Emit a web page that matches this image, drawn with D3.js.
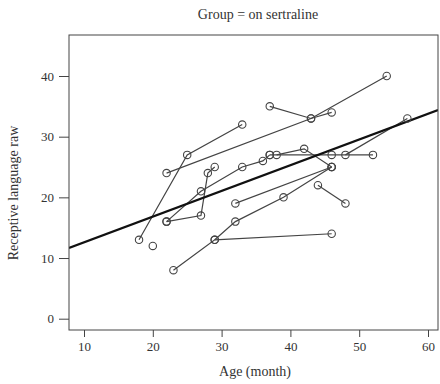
<!DOCTYPE html>
<html>
<head>
<meta charset="utf-8">
<script src="https://cdn.jsdelivr.net/npm/d3@7"></script>
<style>
  body { margin: 0; background: #fff; }
  text { font-family: "Liberation Serif", "DejaVu Serif", serif; fill: #333; }
</style>
</head>
<body>
<svg id="chart" width="440" height="384"></svg>
<script>
// one entry per child: ages (months) and receptive language raw scores
let subjects = [
  { age: [18, 25, 33], score: [13, 27, 32] },
  { age: [22, 43, 54], score: [24, 33, 40] },
  { age: [37, 43, 46], score: [35, 33, 34] },
  { age: [20], score: [12] },
  { age: [23, 29, 46], score: [8, 13, 14] },
  { age: [29, 32, 39, 46], score: [13, 16, 20, 25] },
  { age: [32, 46], score: [19, 25] },
  { age: [44, 48], score: [22, 19] },
  { age: [22, 27, 28, 29], score: [16, 17, 24, 25] },
  { age: [22, 27, 33, 36, 37], score: [16, 21, 25, 26, 27] },
  { age: [38, 42, 46], score: [27, 28, 25] },
  { age: [37, 46, 52], score: [27, 27, 27] },
  { age: [48, 57], score: [27, 33] }
];

let xTicks = [10, 20, 30, 40, 50, 60];
let yTicks = [0, 10, 20, 30, 40];

// fitted line
let intercept = 8.34;
let slope = 0.424;

let svg = d3.select("#chart");

let box = { left: 69, top: 35, right: 438, bottom: 330 };

let x = d3.scaleLinear().domain([10, 60]).range([84, 428]);
let y = d3.scaleLinear().domain([0, 40]).range([318.7, 76]);

svg.append("clipPath").attr("id", "clip")
   .append("rect")
   .attr("x", box.left).attr("y", box.top)
   .attr("width", box.right - box.left)
   .attr("height", box.bottom - box.top);

let plot = svg.append("g").attr("clip-path", "url(#clip)");

let line = d3.line()
             .x(d => x(d[0]))
             .y(d => y(d[1]));

// subject trajectories
for (let s of subjects) {
  let pts = s.age.map((a, i) => [a, s.score[i]]);
  if (pts.length > 1) {
    plot.append("path")
        .attr("d", line(pts))
        .attr("fill", "none")
        .attr("stroke", "#444")
        .attr("stroke-width", 1.2);
  }
}

// regression line
let x0 = x.invert(box.left), x1 = x.invert(box.right);
plot.append("path")
    .attr("d", line([[x0, intercept + slope * x0], [x1, intercept + slope * x1]]))
    .attr("fill", "none")
    .attr("stroke", "#111")
    .attr("stroke-width", 2.2);

// points
let allPts = [];
for (let s of subjects) {
  s.age.forEach((a, i) => allPts.push([a, s.score[i]]));
}
plot.selectAll("circle")
    .data(allPts)
    .enter()
    .append("circle")
    .attr("cx", d => x(d[0]))
    .attr("cy", d => y(d[1]))
    .attr("r", 3.7)
    .attr("fill", "none")
    .attr("stroke", "#444")
    .attr("stroke-width", 1.1);

// frame
svg.append("rect")
   .attr("x", box.left).attr("y", box.top)
   .attr("width", box.right - box.left)
   .attr("height", box.bottom - box.top)
   .attr("fill", "none")
   .attr("stroke", "#444")
   .attr("stroke-width", 1);

// axes
let xAxis = svg.append("g")
   .attr("transform", `translate(0,${box.bottom})`)
   .call(d3.axisBottom(x).tickValues(xTicks).tickSize(7).tickPadding(5));
let yAxis = svg.append("g")
   .attr("transform", `translate(${box.left},0)`)
   .call(d3.axisLeft(y).tickValues(yTicks).tickSize(10).tickPadding(5));

for (let ax of [xAxis, yAxis]) {
  ax.select(".domain").remove();
  ax.selectAll(".tick line").attr("stroke", "#444");
  ax.selectAll(".tick text")
    .attr("font-family", "Liberation Serif, DejaVu Serif, serif")
    .attr("font-size", 13)
    .attr("fill", "#333");
}

// titles
svg.append("text")
   .attr("x", 258).attr("y", 19)
   .attr("text-anchor", "middle")
   .attr("font-size", 14)
   .text("Group = on sertraline");

svg.append("text")
   .attr("x", 255).attr("y", 376)
   .attr("text-anchor", "middle")
   .attr("font-size", 14)
   .text("Age (month)");

svg.append("text")
   .attr("transform", "translate(18,193) rotate(-90)")
   .attr("text-anchor", "middle")
   .attr("font-size", 14)
   .text("Receptive language raw");
</script>
</body>
</html>
